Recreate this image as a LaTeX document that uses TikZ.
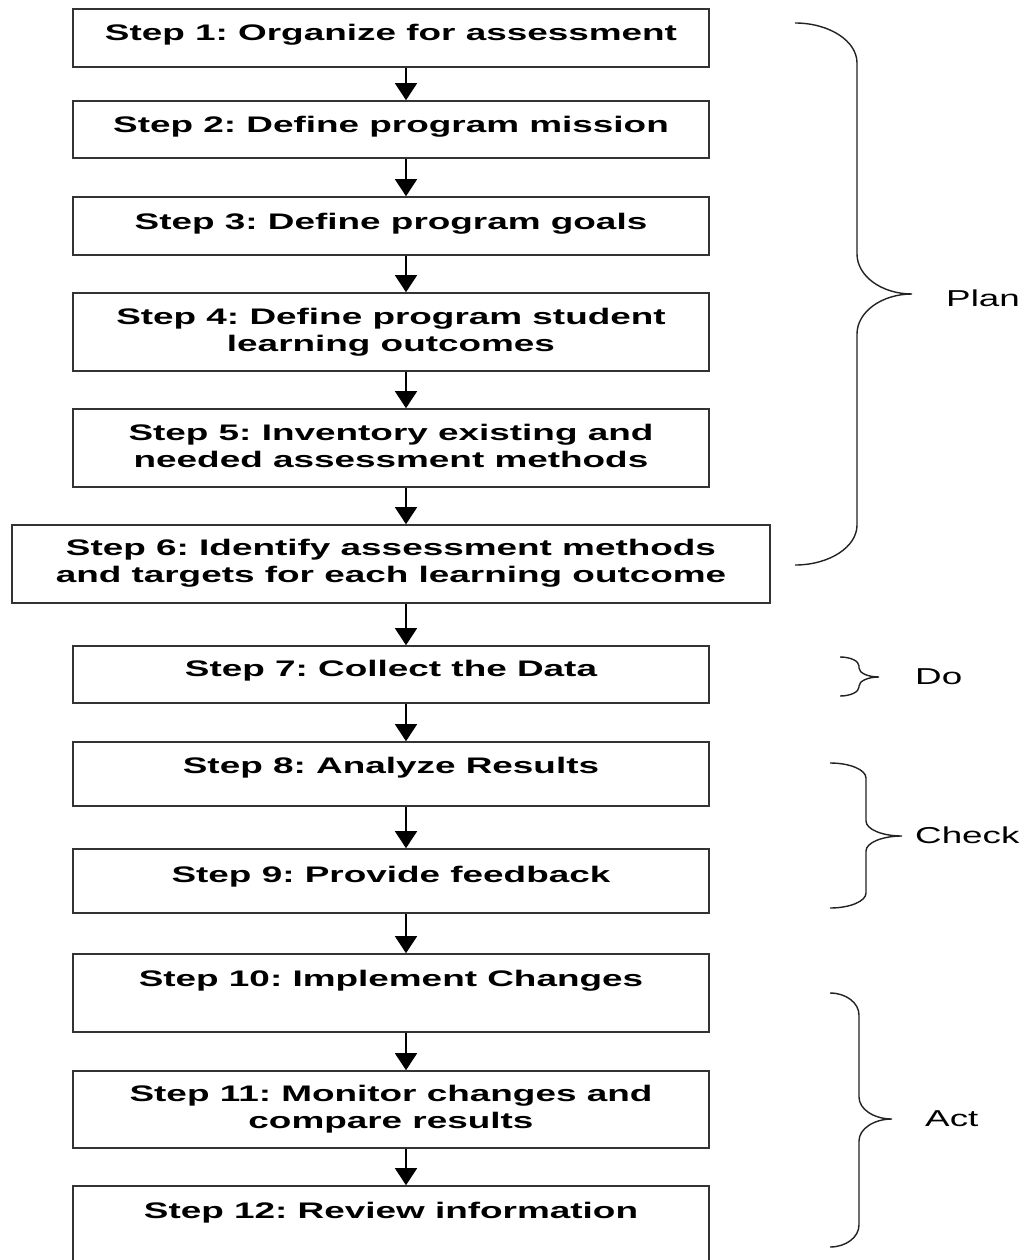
\documentclass[tikz,border=0pt]{standalone}
\usepackage{fontspec}
\usetikzlibrary{arrows.meta}
\newfontfamily\stepfont[FakeStretch=1.64]{Liberation Sans Bold}
\newfontfamily\labfont[FakeStretch=1.6]{Liberation Sans}
\definecolor{boxgray}{HTML}{333333}
\definecolor{bracegray}{HTML}{222222}
% e v t a m b r : end x, vertical x, tip x, top y, tip y, bottom y, curve size
\newcommand\phasebrace[7]{%
  \draw[bracestyle] (#1,#4) .. controls ({#1+0.552*(#2-#1)},#4) and (#2,{#4+0.448*#7}) .. (#2,{#4+#7})
    -- (#2,{#5-#7}) .. controls (#2,{#5-0.448*#7}) and ({#3-0.552*(#3-#2)},#5) .. (#3,#5)
    .. controls ({#3-0.552*(#3-#2)},#5) and (#2,{#5+0.448*#7}) .. (#2,{#5+#7})
    -- (#2,{#6-#7}) .. controls (#2,{#6-0.448*#7}) and ({#1+0.552*(#2-#1)},#6) .. (#1,#6);}
\frenchspacing
\begin{document}
\begin{tikzpicture}[x=1pt,y=-1pt,
  stepbox/.style={draw=boxgray, line width=1.6pt, fill=white, inner sep=0pt, minimum width=636pt},
  steptext/.style={font=\stepfont\fontsize{22.5}{27}\selectfont\frenchspacing, inner sep=0pt, align=center, anchor=base},
  phase/.style={font=\labfont\fontsize{23}{27}\selectfont, inner sep=0pt, anchor=base west},
  flow/.style={line width=1.5pt, draw=black, -{Triangle[width=22pt,length=17pt]}},
  bracestyle/.style={line width=1.4pt, draw=bracegray}]
\clip (0,0) rectangle (1021,1260);
\fill[white] (0,0) rectangle (1021,1260);

% boxes
\node[stepbox, minimum height=58pt] (b1) at (391,38) {};
\node[stepbox, minimum height=57pt] (b2) at (391,129.5) {};
\node[stepbox, minimum height=58pt] (b3) at (391,226) {};
\node[stepbox, minimum height=78pt] (b4) at (391,332) {};
\node[stepbox, minimum height=78pt] (b5) at (391,448) {};
\node[stepbox, minimum height=78pt, minimum width=758pt] (b6) at (391,564) {};
\node[stepbox, minimum height=57pt] (b7) at (391,674.5) {};
\node[stepbox, minimum height=64pt] (b8) at (391,774) {};
\node[stepbox, minimum height=64pt] (b9) at (391,881) {};
\node[stepbox, minimum height=78pt] (b10) at (391,993) {};
\node[stepbox, minimum height=77pt] (b11) at (391,1109.5) {};
\node[stepbox, minimum height=78pt] (b12) at (391,1225) {};

% texts (base anchor = baseline of the last line)
\node[steptext] (t1) at (391,41) {Step 1: Organize for assessment};
\node[steptext] (t2) at (391,133) {Step 2: Define program mission};
\node[steptext] (t3) at (391,229) {Step 3: Define program goals};
\node[steptext] (t4) at (391,351) {Step 4: Define program student\\learning outcomes};
\node[steptext] (t5) at (391,467) {Step 5: Inventory existing and\\needed assessment methods};
\node[steptext] (t6) at (391,582) {Step 6: Identify assessment methods\\and targets for each learning outcome};
\node[steptext] (t7) at (391,676) {Step 7: Collect the Data};
\node[steptext] (t8) at (391,773) {Step 8: Analyze Results};
\node[steptext] (t9) at (391,882) {Step 9: Provide feedback};
\node[steptext] (t10) at (391,986) {Step 10: Implement Changes};
\node[steptext] (t11) at (391,1128) {Step 11: Monitor changes and\\compare results};
\node[steptext] (t12) at (391,1218) {Step 12: Review information};

% arrows
\coordinate (ax) at (406,0);
\foreach \a/\b in {b1/b2,b2/b3,b3/b4,b4/b5,b5/b6,b6/b7,b7/b8,b8/b9,b9/b10,b10/b11,b11/b12}
  \draw[flow] (\a.south -| ax) -- (\b.north -| ax);

% braces
\phasebrace{795}{857}{912}{23}{294}{565}{40}
\phasebrace{840}{859}{879}{657}{677}{696}{9}
\phasebrace{830}{866}{902}{763}{836}{908}{15}
\phasebrace{830}{859}{892}{993}{1119}{1247}{22}

% labels
\node[phase] (plan) at (946,306) {Plan};
\node[phase] (do) at (915,684) {Do};
\node[phase] (check) at (915,843) {Check};
\node[phase] (act) at (925,1126) {Act};
\end{tikzpicture}
\end{document}
